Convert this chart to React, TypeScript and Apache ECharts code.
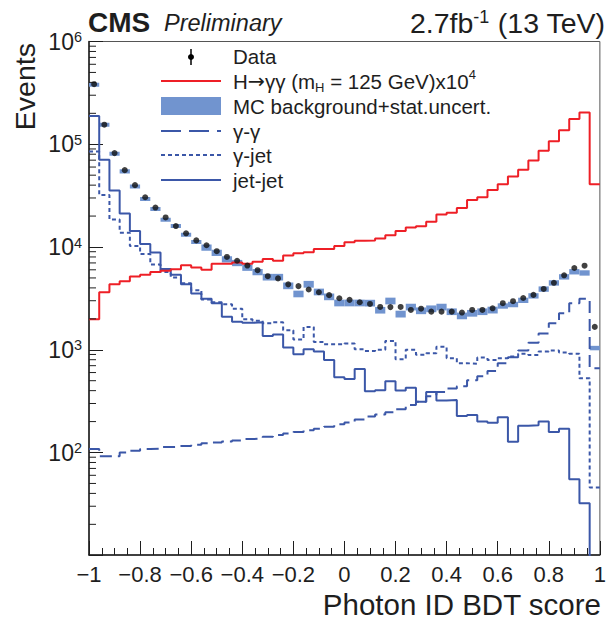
import React, { useEffect, useRef } from "react";
import * as echarts from "echarts";

// ---------------- data (50 bins from -1 to 1) ----------------
const N_BINS = 50;
const X_MIN = -1;
const X_MAX = 1;

const dataCounts = [
  384000, 155000, 82000, 56000, 40000, 30500, 24200, 19400, 16000, 13600,
  11600, 10400, 9100, 8000, 7350, 6600, 5950, 5200, 4950, 4330,
  4160, 3860, 3630, 3400, 3170, 3060, 2900, 2790, 2610, 2600,
  2610, 2440, 2510, 2350, 2350, 2350, 2300, 2440, 2440, 2530,
  2840, 2970, 3190, 3420, 3910, 4480, 5300, 6250, 6580, 1670,
];

const mcBackground = [
  380000, 155000, 81000, 54500, 38800, 29300, 23500, 18400, 16000, 13200,
  11200, 9900, 8800, 7600, 7000, 6300, 5700, 5100, 5100, 4200,
  3500, 4350, 3660, 3280, 2860, 2860, 2860, 2850, 2430, 2990,
  2230, 2610, 2400, 2510, 2610, 2350, 2140, 2270, 2350, 2440,
  2670, 2760, 3030, 3350, 3900, 4480, 5130, 5750, 5600, 1040,
];

const mcStatErr = [
  17000, 7000, 3600, 2500, 1750, 1300, 1050, 830, 720, 600,
  500, 690, 620, 530, 490, 440, 400, 380, 380, 315,
  260, 330, 275, 245, 215, 215, 215, 215, 180, 225,
  170, 195, 180, 190, 195, 175, 160, 170, 175, 185,
  160, 165, 180, 200, 235, 270, 310, 345, 335, 52,
];

const signalX1e4 = [
  1980, 3620, 4350, 4650, 5170, 5380, 5700, 5880, 6070, 6650,
  6330, 6000, 6860, 6860, 7070, 6860, 7200, 7660, 7360, 8250,
  8700, 8900, 9540, 9540, 10200, 11100, 11500, 11600, 12100, 13000,
  14300, 15500, 15900, 17600, 20700, 21500, 24000, 28600, 30500, 35900,
  40800, 48500, 56400, 69600, 86500, 107000, 137000, 176000, 204000, 40800,
];

const gammaGamma = [
  108, 92, 92, 100, 104, 108, 109, 113, 114, 116,
  119, 123, 125, 128, 131, 135, 137, 142, 148, 153,
  158, 165, 170, 178, 188, 196, 210, 224, 235, 246,
  264, 290, 312, 353, 388, 420, 442, 506, 553, 621,
  738, 846, 982, 1170, 1440, 1810, 2270, 2840, 3130, 660,
];

const gammaJet = [
  85000, 32000, 18500, 13800, 10200, 8550, 6750, 5700, 5060, 4430,
  3800, 3090, 2900, 2770, 2510, 1980, 1920, 1810, 1850, 1550,
  1260, 1670, 1190, 1130, 1130, 1150, 1010, 975, 1000, 1220,
  808, 998, 896, 926, 1070, 827, 739, 732, 839, 797,
  827, 858, 912, 888, 960, 983, 938, 917, 527, 45.7,
];

const jetJet = [
  188000, 70700, 35400, 21200, 14300, 10700, 8860, 6120, 5380, 4330,
  3520, 3130, 2840, 2100, 1870, 1830, 1850, 1360, 1410, 1050,
  904, 1010, 960, 797, 539, 518, 649, 395, 404, 495,
  401, 426, 312, 388, 320, 325, 227, 232, 200, 195,
  220, 127, 182, 184, 200, 158, 170, 55, 32, 1,
];

const yDecadeExponents = [2, 3, 4, 5, 6];

// ---------------- styling ----------------
const FONT = '"Liberation Sans", Arial, Helvetica, sans-serif';
const RED = "#ee1f26";
const BLUE = "#3b57a8";
const BAND = "#7194cf";
const INK = "#1e1e1e";

const edges = Array.from({ length: N_BINS + 1 }, (_, i) => X_MIN + ((X_MAX - X_MIN) * i) / N_BINS);
const centers = Array.from({ length: N_BINS }, (_, i) => (edges[i] + edges[i + 1]) / 2);

function stepData(vals: number[]) {
  const pts = vals.map((v, i) => [edges[i], v]);
  pts.push([edges[N_BINS], vals[N_BINS - 1]]);
  return pts;
}

const minorTickValues: number[] = [];
for (let e = 1; e < 6; e++) {
  for (let m = 2; m <= 9; m++) minorTickValues.push(m * Math.pow(10, e));
}

function xLabel(v: number) {
  const r = Number(v.toFixed(2));
  if (r === 0) return "0";
  const s = String(Math.abs(r));
  return (r < 0 ? "\u2212" : "") + s;
}

function yLabel(v: number) {
  const e = Math.log10(v);
  const r = Math.round(e);
  if (Math.abs(e - r) > 1e-6 || yDecadeExponents.indexOf(r) < 0) return "";
  return `{b|10}{s|${r}}`;
}

const legendRows = [
  { y: 56, kind: "data", rich: "{t|Data}" },
  { y: 81, kind: "red", rich: "{t|H}{a|\u2192}{t|\u03b3\u03b3 (m}{sub|H}{t| = 125 GeV)x10}{sup|4}" },
  { y: 106, kind: "band", rich: "{t|MC background+stat.uncert.}" },
  { y: 131, kind: "dash", rich: "{t|\u03b3-\u03b3}" },
  { y: 155, kind: "dot", rich: "{t|\u03b3-jet}" },
  { y: 180, kind: "solid", rich: "{t|jet-jet}" },
];

const LEG_FS = 20.5;
const legendRich = {
  t: { fontSize: LEG_FS, lineHeight: 26, fontFamily: FONT, fill: INK, color: INK },
  a: { fontSize: LEG_FS, lineHeight: 26, fontFamily: '"DejaVu Sans", sans-serif', fill: INK, color: INK },
  sub: { fontSize: 13, lineHeight: 12, verticalAlign: "bottom", fontFamily: FONT, fill: INK, color: INK },
  sup: { fontSize: 13, lineHeight: 12, verticalAlign: "top", fontFamily: FONT, fill: INK, color: INK },
};

function buildGraphic() {
  const g: any[] = [];
  const sx1 = 161;
  const sx2 = 221;
  legendRows.forEach((row) => {
    if (row.kind === "data") {
      g.push({ type: "line", shape: { x1: 191, y1: 49, x2: 191, y2: 65 }, style: { stroke: "#000", lineWidth: 1.5 } });
      g.push({ type: "circle", shape: { cx: 191, cy: 57, r: 3 }, style: { fill: "#000" } });
    } else if (row.kind === "red") {
      g.push({ type: "line", shape: { x1: sx1, y1: row.y, x2: sx2, y2: row.y }, style: { stroke: RED, lineWidth: 2 } });
    } else if (row.kind === "band") {
      g.push({ type: "rect", shape: { x: sx1, y: row.y - 9, width: sx2 - sx1, height: 18 }, style: { fill: BAND } });
    } else {
      const dash = row.kind === "dash" ? [20, 8] : row.kind === "dot" ? [4, 3] : null;
      g.push({
        type: "line",
        shape: { x1: sx1, y1: row.y, x2: sx2, y2: row.y },
        style: { stroke: BLUE, lineWidth: 2, lineDash: dash || undefined },
      });
    }
    g.push({
      type: "text",
      x: 233,
      y: row.y,
      style: { text: row.rich, rich: legendRich, align: "left", verticalAlign: "middle", fontFamily: FONT, fontSize: LEG_FS, fill: INK },
    });
  });

  g.push({
    type: "text",
    x: 88,
    y: 22,
    style: { text: "CMS", fontSize: 28, fontWeight: "bold", fontFamily: FONT, fill: INK, align: "left", verticalAlign: "middle" },
  });
  g.push({
    type: "text",
    x: 164,
    y: 23,
    style: { text: "Preliminary", fontSize: 23.5, fontStyle: "italic", fontFamily: FONT, fill: INK, align: "left", verticalAlign: "middle" },
  });
  g.push({
    type: "text",
    x: 605,
    y: 23,
    style: {
      text: "{a|2.7fb}{s|-1}{a| (13 TeV)}",
      align: "right",
      verticalAlign: "middle",
      rich: {
        a: { fontSize: 28.5, lineHeight: 30, fontFamily: FONT, fill: INK, color: INK },
        s: { fontSize: 18, lineHeight: 14, verticalAlign: "top", fontFamily: FONT, fill: INK, color: INK },
      },
    },
  });
  g.push({
    type: "text",
    x: 25,
    y: 43,
    rotation: Math.PI / 2,
    style: { text: "Events", fontSize: 28.5, fontFamily: FONT, fill: INK, align: "right", verticalAlign: "middle" },
  });
  g.push({
    type: "text",
    x: 601,
    y: 604,
    style: { text: "Photon ID BDT score", fontSize: 29.5, fontFamily: FONT, fill: INK, align: "right", verticalAlign: "middle" },
  });
  return g;
}

function histSeries(name: string, vals: number[], color: string, type: any, z: number) {
  return {
    name,
    type: "line",
    step: "end",
    data: stepData(vals),
    showSymbol: false,
    symbol: "none",
    clip: true,
    silent: true,
    z,
    lineStyle: { color, width: 2, type },
  };
}

export default function App() {
  const ref = useRef<HTMLDivElement>(null);

  useEffect(() => {
    if (!ref.current) return;
    const chart = echarts.init(ref.current, undefined, { renderer: "svg" });

    const option: any = {
      animation: false,
      backgroundColor: "#ffffff",
      textStyle: { fontFamily: FONT },
      grid: {
        left: 89,
        right: 7.5,
        top: 41.5,
        bottom: 68,
        show: true,
        borderColor: "#555",
        borderWidth: 1,
        backgroundColor: "transparent",
      },
      xAxis: {
        type: "value",
        min: X_MIN,
        max: X_MAX,
        interval: 0.2,
        axisLine: { show: true, onZero: false, lineStyle: { color: INK, width: 1.5 } },
        axisTick: { show: true, inside: true, length: 14, lineStyle: { color: INK, width: 1 } },
        minorTick: { show: true, splitNumber: 4, length: 7, lineStyle: { color: INK, width: 1 } },
        splitLine: { show: false },
        minorSplitLine: { show: false },
        axisLabel: {
          formatter: xLabel,
          fontSize: 22,
          fontFamily: FONT,
          color: INK,
          margin: 8,
        },
      },
      yAxis: {
        type: "log",
        logBase: 10,
        min: 10.06,
        max: 1e6,
        splitNumber: 5,
        axisLine: { show: true, onZero: false, lineStyle: { color: INK, width: 1.5 } },
        axisTick: { show: true, inside: true, length: 14, lineStyle: { color: INK, width: 1 } },
        splitLine: { show: false },
        minorTick: { show: false },
        axisLabel: {
          formatter: yLabel,
          margin: 7,
          rich: {
            b: { fontSize: 23, lineHeight: 24, fontFamily: FONT, color: INK },
            s: { fontSize: 14.5, lineHeight: 12, verticalAlign: "top", fontFamily: FONT, color: INK },
          },
        },
      },
      series: [
        {
          name: "MC band",
          type: "custom",
          clip: true,
          silent: true,
          z: 1,
          encode: { x: [0, 1], y: [2, 3] },
          data: mcBackground.map((v, i) => [edges[i], edges[i + 1], v - mcStatErr[i], v + mcStatErr[i]]),
          renderItem: (params: any, api: any) => {
            const p0 = api.coord([api.value(0), api.value(3)]);
            const p1 = api.coord([api.value(1), api.value(2)]);
            return {
              type: "rect",
              shape: { x: p0[0], y: p0[1], width: p1[0] - p0[0], height: p1[1] - p0[1] },
              style: { fill: BAND },
            };
          },
        },
        {
          name: "minor y ticks",
          type: "custom",
          silent: true,
          clip: true,
          z: 5,
          encode: { x: 0, y: 1 },
          data: minorTickValues.map((v) => [X_MIN, v]),
          renderItem: (params: any, api: any) => {
            const p = api.coord([api.value(0), api.value(1)]);
            return {
              type: "line",
              shape: { x1: p[0], y1: p[1], x2: p[0] + 7, y2: p[1] },
              style: { stroke: INK, lineWidth: 1 },
            };
          },
        },
        histSeries("gamma-gamma", gammaGamma, BLUE, [12, 6], 3),
        histSeries("gamma-jet", gammaJet, BLUE, [4, 3], 3),
        histSeries("jet-jet", jetJet, BLUE, "solid", 3),
        histSeries("H->gg x1e4", signalX1e4, RED, "solid", 4),
        {
          name: "Data",
          type: "scatter",
          symbol: "circle",
          symbolSize: 6,
          silent: true,
          z: 6,
          itemStyle: { color: "#111" },
          data: dataCounts.map((v, i) => [centers[i], v]),
        },
      ],
      graphic: buildGraphic(),
    };

    chart.setOption(option);
    return () => {
      chart.dispose();
    };
  }, []);

  return (
    <div
      ref={ref}
      style={{ position: "fixed", left: 0, top: 0, width: 609, height: 623, background: "#fff" }}
    />
  );
}
